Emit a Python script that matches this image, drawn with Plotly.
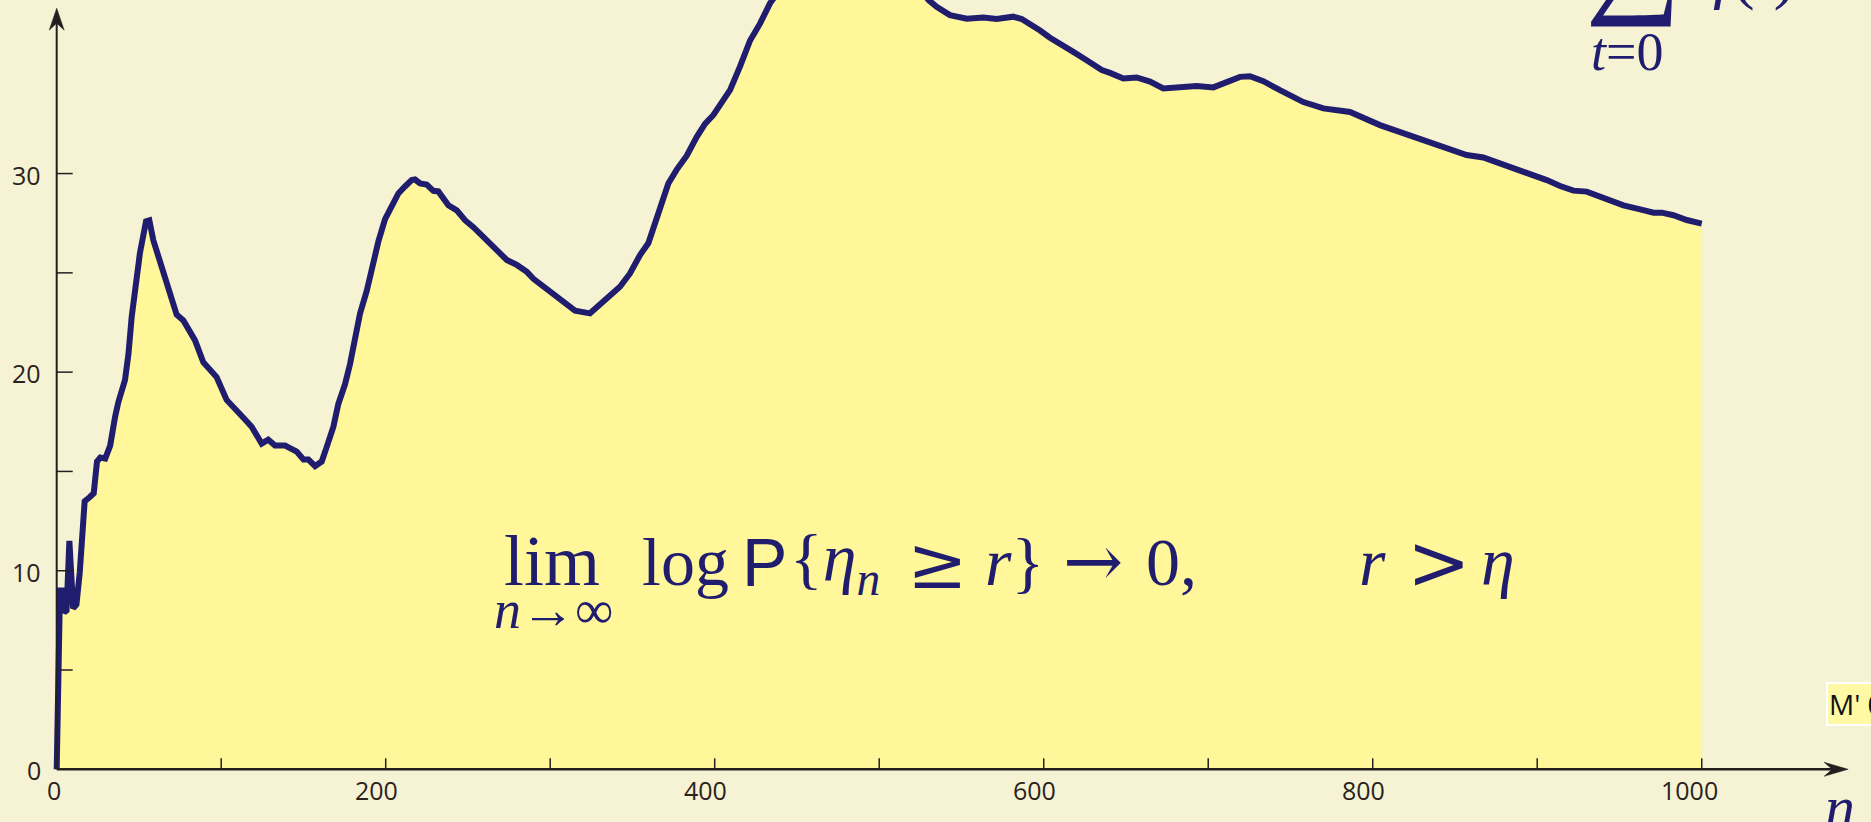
import plotly.graph_objects as go

# ---------------- data ----------------
n_vals = [0, 2, 3.5, 4.5, 6, 7.7, 10, 12, 14, 17, 20, 22.5, 24.5, 26.5, 29.5, 32.5, 35.5, 37.5,
          41.5, 43.6, 45.6, 48.2, 50.6, 54.3, 56.3, 58.7, 62.8, 65.8, 69.9, 72.9, 77, 81, 84.1,
          89.1, 93.2, 97.2, 103.3, 107.4, 113.5, 118.5, 124.6, 128.6, 132.7, 138.8, 142.8, 145.9,
          150, 153, 157.1, 161.1, 164.2, 168.2, 171.2, 175.3, 178.3, 181.4, 184.4, 188.5, 192.5,
          195.6, 199.6, 203.7, 207.7, 211.7, 215.8, 217.8, 220.9, 224.9, 229, 232, 238.1, 243.2,
          248.2, 253.3, 261.4, 267.5, 273.6, 279.7, 285.8, 289.8, 295.9, 302, 308, 315.1, 324.2,
          330.3, 334.3, 342.4, 348.5, 354.6, 359.7, 363.7, 367.8, 371.8, 376.9, 383, 389.1, 394.1,
          399.2, 404.2, 409.3, 415.4, 421.5, 427.6, 433.6, 445, 460, 480, 500, 515, 530, 534.9,
          543, 553.2, 563.3, 571.4, 581.5, 586.6, 592.7, 597.8, 603.8, 609.9, 618, 626.1, 635.3,
          640.3, 648.4, 656.5, 664.6, 672.7, 682.9, 693, 703.1, 713.3, 719.3, 725.4, 733.5, 743.6,
          757.8, 770, 786.2, 804.4, 822.7, 840.9, 857.1, 867.2, 877.4, 887.6, 897.7, 905.8, 913.9,
          922, 930.1, 942.3, 952.4, 962.6, 970.7, 975.7, 982.8, 990.9, 1000]
sum_vals = [0, 9.0, 9.0, 7.9, 8.0, 11.5, 8.1, 8.3, 9.9, 13.5, 13.7, 13.9, 15.5, 15.7, 15.65, 16.3,
            17.75, 18.5, 19.6, 20.9, 22.8, 24.5, 26.0, 27.6, 27.65, 26.65, 25.5, 24.9, 23.6, 22.9,
            22.6, 21.95, 21.6, 20.5, 20.1, 19.75, 18.6, 18.2, 17.7, 17.25, 16.4, 16.6, 16.3, 16.3,
            16.1, 16.0, 15.6, 15.6, 15.27, 15.5, 16.25, 17.25, 18.4, 19.4, 20.4, 21.75, 22.96, 24.1,
            25.6, 26.6, 27.7, 28.3, 29.0, 29.35, 29.67, 29.7, 29.5, 29.45, 29.13, 29.1, 28.4, 28.15,
            27.65, 27.3, 26.6, 26.15, 25.65, 25.4, 25.05, 24.7, 24.3, 23.97, 23.55, 23.1, 22.96,
            23.4, 23.7, 24.3, 24.97, 25.9, 26.5, 27.57, 28.67, 29.5, 30.2, 30.9, 31.85, 32.5, 32.95,
            33.6, 34.2, 35.4, 36.7, 37.56, 38.57, 39.9, 41.2, 41.8, 41.3, 40.2, 38.74, 38.4, 37.98,
            37.8, 37.86, 37.78, 37.9, 37.78, 37.48, 37.2, 36.84, 36.5, 36.13, 35.71, 35.21, 35.07,
            34.79, 34.84, 34.63, 34.29, 34.34, 34.41, 34.34, 34.63, 34.87, 34.9, 34.65, 34.2, 33.6,
            33.28, 33.1, 32.44, 31.89, 31.38, 30.93, 30.81, 30.51, 30.26, 29.92, 29.67, 29.37,
            29.14, 29.09, 28.7, 28.4, 28.2, 28.03, 28.03, 27.9, 27.66, 27.48]

x_major_ticks = [0, 200, 400, 600, 800, 1000]
x_minor_ticks = [100, 200, 300, 400, 500, 600, 700, 800, 900, 1000]
x_tick_labels = ["0", "200", "400", "600", "800", "1000"]
y_major_ticks = [0, 10, 20, 30]
y_minor_ticks = [5, 10, 15, 20, 25, 30]
y_tick_labels = ["0", "10", "20", "30"]

# ---------------- style ----------------
W, H = 1871, 822
BG = "#F5F3D4"
FILL = "#FFF799"
NAVY = "#201D6E"
AXIS = "#231F20"
LABEL = "#2B2220"
X_RANGE = [-34.47, 1102.9]
Y_RANGE = [-2.654, 38.74]
X_TIP = 1089.0
Y_TIP = 38.33

fig = go.Figure()
fig.add_trace(go.Scatter(
    x=n_vals, y=sum_vals, mode="lines", fill="tozeroy", fillcolor=FILL,
    line=dict(color=NAVY, width=6), hoverinfo="skip", showlegend=False))

shapes = []
# axis lines
shapes.append(dict(type="line", xref="x", yref="y", x0=0, x1=X_TIP - 8, y0=0, y1=0,
                   line=dict(color=AXIS, width=2.5)))
shapes.append(dict(type="line", xref="x", yref="y", x0=0, x1=0, y0=0, y1=Y_TIP - 0.6,
                   line=dict(color=AXIS, width=2)))
# arrowheads
shapes.append(dict(type="path", xref="x", yref="y", xsizemode="pixel", ysizemode="pixel",
                   xanchor=X_TIP, yanchor=0, path="M 0 0 L -24 7 L -16 0 L -24 -7 Z",
                   fillcolor=AXIS, line=dict(color=AXIS, width=0.5)))
shapes.append(dict(type="path", xref="x", yref="y", xsizemode="pixel", ysizemode="pixel",
                   xanchor=0, yanchor=Y_TIP, path="M 0 0 L -7.5 -22 L 0 -15 L 7.5 -22 Z",
                   fillcolor=AXIS, line=dict(color=AXIS, width=0.5)))
# ticks
for t in x_minor_ticks:
    shapes.append(dict(type="line", xref="x", yref="y", ysizemode="pixel", yanchor=0,
                       x0=t, x1=t, y0=0, y1=11, line=dict(color=AXIS, width=1.5)))
for t in y_minor_ticks:
    shapes.append(dict(type="line", xref="x", yref="y", xsizemode="pixel", xanchor=0,
                       x0=0, x1=16, y0=t, y1=t, line=dict(color=AXIS, width=1.5)))

ann = []
TICKFONT = dict(family="Open Sans", size=25, color=LABEL)
for t, lab in zip(x_major_ticks, x_tick_labels):
    ann.append(dict(x=t, y=0, xref="x", yref="y", text=lab, showarrow=False,
                    xanchor="center", yanchor="middle", xshift=-3 * len(lab), yshift=-21,
                    font=TICKFONT))
for t, lab in zip(y_major_ticks, y_tick_labels):
    ann.append(dict(x=0, y=t, xref="x", yref="y", text=lab, showarrow=False,
                    xanchor="right", yanchor="middle", xshift=-14, yshift=-1,
                    font=TICKFONT))


def ptxt(text, px, py_center, size, family="Liberation Serif", anchor="left", color=NAVY):
    ann.append(dict(x=px / W, y=1 - py_center / H, xref="paper", yref="paper", text=text,
                    showarrow=False, xanchor=anchor, yanchor="middle", borderpad=0,
                    font=dict(family=family, size=size, color=color)))


FS = 68
BASE = 585
CEN = BASE - 0.3375 * FS
ptxt("lim", 503, BASE - 0.3375 * 72, 72)
ptxt("<i>n</i>→∞", 554, 628 - 0.3375 * 54, 54, anchor="center")
ptxt("log", 641, CEN, FS)
ptxt("P", 741, CEN, FS, family="Liberation Sans")
ptxt("{<i>η</i><sub><i>n</i></sub>", 789, CEN, FS)
ptxt("≥", 906, BASE - 0.30 * 72, 72, family="DejaVu Serif")
ptxt("<i>r</i>}", 984, CEN, FS)
ptxt("→", 1062, BASE - 0.3375 * 72, 72, family="DejaVu Serif")
ptxt("0,", 1145, CEN, FS)
ptxt("<i>r</i>", 1358, CEN, FS)
ptxt(">", 1406, BASE - 0.30 * 76, 76, family="DejaVu Serif")
ptxt("<i>η</i>", 1480, CEN, FS)

# top-right sum expression (clipped by the top edge)
ptxt("∑", 1584, -48, 135)
ptxt("<i>t</i>=0", 1590, 70 - 0.3375 * 54, 54)
ptxt("<i>f</i>(<i>t</i>)", 1712, -4 - 0.3375 * FS, FS)

# axis variable
ptxt("<i>n</i>", 1824, 827 - 0.3375 * 60, 60)

# small clipped label
ann.append(dict(x=1826 / W, y=1 - 704 / H, xref="paper", yref="paper", text="M' 0",
                showarrow=False, xanchor="left", yanchor="middle", bgcolor="#FFF9A6",
                bordercolor="#FFFFFF", borderwidth=2, borderpad=1,
                font=dict(family="Open Sans", size=28, color="#111111")))

fig.update_layout(
    width=W, height=H, margin=dict(l=0, r=0, t=0, b=0),
    paper_bgcolor=BG, plot_bgcolor=BG,
    xaxis=dict(range=X_RANGE, visible=False, fixedrange=True),
    yaxis=dict(range=Y_RANGE, visible=False, fixedrange=True),
    shapes=shapes, annotations=ann, showlegend=False,
)

fig.write_html("out.html", config={"displayModeBar": False})
